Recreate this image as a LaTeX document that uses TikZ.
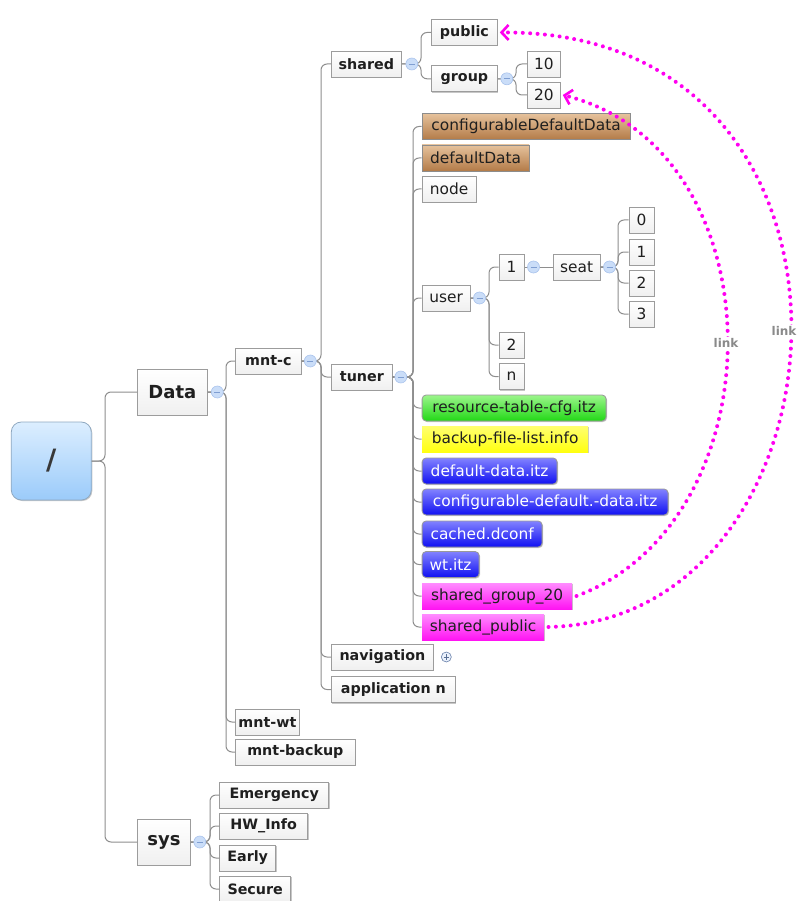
\documentclass[tikz,border=0pt]{standalone}
\usepackage{fontspec}
\setmainfont{DejaVu Sans}
\usetikzlibrary{arrows.meta,shadows}

\definecolor{edgegray}{HTML}{8E8E8E}
\definecolor{boxline}{HTML}{9C9C9C}
\definecolor{ink}{HTML}{1F1F1F}
\definecolor{linkmag}{HTML}{FF00F0}
\definecolor{linktext}{HTML}{8A8A8A}
\definecolor{foldfill}{HTML}{CADDF8}
\definecolor{folddraw}{HTML}{A9C3EC}
\definecolor{foldsign}{HTML}{7F9ED2}
\definecolor{rootTop}{HTML}{DCEEFF}
\definecolor{rootBot}{HTML}{9BCBFA}
\definecolor{rootLine}{HTML}{8FA8C0}
\definecolor{brownTop}{HTML}{E6C29C}
\definecolor{brownBot}{HTML}{B37B48}
\definecolor{greenTop}{HTML}{9CF58C}
\definecolor{greenBot}{HTML}{22D816}
\definecolor{yellowTop}{HTML}{FFFF70}
\definecolor{yellowBot}{HTML}{FFFF10}
\definecolor{blueTop}{HTML}{8282FF}
\definecolor{blueBot}{HTML}{1010F2}
\definecolor{magTop}{HTML}{FF8CFF}
\definecolor{magBot}{HTML}{FF14F2}

% parent -> trunk column -> child, with rounded bends
\newcommand\topicedge[3]{\draw[conn] (#1.east) -| (#2 |- #3.west) -- (#3.west);}

\tikzset{
  conn/.style={draw=edgegray, line width=1pt, rounded corners=6pt},
  topic/.style={draw=boxline, line width=0.8pt, top color=white, bottom color=black!6,
    text=ink, minimum height=26pt, inner xsep=3pt, inner ysep=0pt, anchor=west,
    font=\fontsize{15.4}{18}\selectfont,
    drop shadow={shadow xshift=1pt, shadow yshift=-1pt, opacity=0.22, fill=black}},
  heavy/.style={font=\fontsize{14.3}{18}\selectfont\bfseries},
  big/.style={minimum height=46pt, font=\fontsize{18}{22}\selectfont\bfseries},
  brownbox/.style={top color=brownTop, bottom color=brownBot, draw=black!45},
  greenbox/.style={top color=greenTop, bottom color=greenBot, draw=black!40, rounded corners=4pt},
  yellowbox/.style={top color=yellowTop, bottom color=yellowBot, draw=none},
  bluebox/.style={top color=blueTop, bottom color=blueBot, draw=black!40, rounded corners=4pt, text=white},
  magbox/.style={top color=magTop, bottom color=magBot, draw=none},
  foldbtn/.style={circle, draw=folddraw, fill=foldfill, line width=0.6pt, minimum size=12pt, inner sep=0pt,
    path picture={\draw[foldsign, line width=0.8pt]
      ([xshift=-3pt]path picture bounding box.center) -- ([xshift=3pt]path picture bounding box.center);}},
  expandbtn/.style={circle, draw=foldsign!80!black, fill=foldfill!40, line width=0.6pt, minimum size=10pt, inner sep=0pt,
    path picture={\draw[foldsign!70!black, line width=0.8pt]
      ([xshift=-2.6pt]path picture bounding box.center) -- ([xshift=2.6pt]path picture bounding box.center)
      ([yshift=-2.6pt]path picture bounding box.center) -- ([yshift=2.6pt]path picture bounding box.center);}},
  linkpath/.style={draw=linkmag, line width=4pt, line cap=round, dash pattern=on 0pt off 7.4pt,
    -{Straight Barb[length=7pt,width=15pt,line width=2.6pt]}},
  linklabel/.style={fill=white, text=linktext, inner sep=1.5pt, font=\fontsize{12}{14}\selectfont\bfseries}
}

\begin{document}
\begin{tikzpicture}[x=1pt,y=-1pt]
\useasboundingbox (0,0) rectangle (799,901);

% ---- topics ----
\node[topic, anchor=center, minimum width=80pt, minimum height=78pt, rounded corners=10pt,
      top color=rootTop, bottom color=rootBot, draw=rootLine,
      font=\fontsize{28}{30}\selectfont\bfseries, text=black!78] (root) at (51.3,461) {/};

\node[topic, big, minimum width=70pt] (data) at (137,392) {Data};
\node[topic, big, minimum width=53pt] (sys)  at (137,842) {sys};

\node[topic, heavy, minimum width=66pt]  (mntc)  at (235,361) {mnt-c};
\node[topic, heavy, minimum width=64pt]  (mntwt) at (235,722) {mnt-wt};
\node[topic, heavy, minimum width=120pt] (mntbk) at (235,752) {mnt-backup};

\node[topic, heavy, minimum width=70pt]  (shared) at (331,64)    {shared};
\node[topic, heavy, minimum width=61pt]  (tuner)  at (331,377)   {tuner};
\node[topic, heavy, minimum width=102pt] (navig)  at (331,657)   {navigation};
\node[topic, heavy, minimum width=124pt] (appn)   at (331,689.5) {application n};

\node[topic, heavy, minimum width=66pt] (public) at (431,32.5) {public};
\node[topic, heavy, minimum width=66pt] (group)  at (431,78.8) {group};
\node[topic, minimum width=33pt] (n10) at (527,64) {10};
\node[topic, minimum width=33pt] (n20) at (527,95) {20};

\node[topic, brownbox, minimum width=208pt] (cdd)   at (421.7,126.5) {configurableDefaultData};
\node[topic, brownbox, minimum width=107pt] (dd)    at (421.7,158)   {defaultData};
\node[topic, minimum width=54pt]            (nodeN) at (421.7,189)   {node};
\node[topic, minimum width=48pt]            (user)  at (421.7,298)   {user};

\node[topic, minimum width=25pt] (u1)   at (498.7,267)   {1};
\node[topic, minimum width=25pt] (u2)   at (498.7,345)   {2};
\node[topic, minimum width=25pt] (un)   at (498.7,376.5) {n};
\node[topic, minimum width=47pt] (seat) at (552.7,267)   {seat};
\node[topic, minimum width=25pt] (s0) at (628.7,220) {0};
\node[topic, minimum width=25pt] (s1) at (628.7,252) {1};
\node[topic, minimum width=25pt] (s2) at (628.7,283) {2};
\node[topic, minimum width=25pt] (s3) at (628.7,314) {3};

\node[topic, greenbox,  minimum width=184pt] (rtc)  at (421.7,408)   {resource-table-cfg.itz};
\node[topic, yellowbox, minimum width=166pt] (bfl)  at (421.7,439)   {backup-file-list.info};
\node[topic, bluebox,   minimum width=135pt] (ddi)  at (421.7,471)   {default-data.itz};
\node[topic, bluebox,   minimum width=246pt] (cddi) at (421.7,502)   {configurable-default.-data.itz};
\node[topic, bluebox,   minimum width=120pt] (cdc)  at (421.7,534)   {cached.dconf};
\node[topic, bluebox,   minimum width=57pt]  (wti)  at (421.7,564.5) {wt.itz};
\node[topic, magbox,    minimum width=150pt] (sg20) at (421.7,596)   {shared\_group\_20};
\node[topic, magbox,    minimum width=122pt] (sp)   at (421.7,627)   {shared\_public};

\node[topic, heavy, minimum width=109pt] (emerg)  at (219.3,795) {Emergency};
\node[topic, heavy, minimum width=88pt]  (hwinfo) at (219.3,826) {HW\_Info};
\node[topic, heavy, minimum width=56pt]  (early)  at (219.3,858) {Early};
\node[topic, heavy, minimum width=71pt]  (secure) at (219.3,889) {Secure};

% ---- trunk columns ----
\coordinate (tRoot)   at (105,0);
\coordinate (tData)   at (226,0);
\coordinate (tSys)    at (210,0);
\coordinate (tMntc)   at (321,0);
\coordinate (tShared) at (421,0);
\coordinate (tGroup)  at (516,0);
\coordinate (tTuner)  at (413,0);
\coordinate (tUser)   at (489,0);
\coordinate (tSeat)   at (618,0);

% ---- connectors ----
\topicedge{root}{tRoot}{data}
\topicedge{root}{tRoot}{sys}
\topicedge{data}{tData}{mntc}
\topicedge{data}{tData}{mntwt}
\topicedge{data}{tData}{mntbk}
\topicedge{mntc}{tMntc}{shared}
\topicedge{mntc}{tMntc}{tuner}
\topicedge{mntc}{tMntc}{navig}
\topicedge{mntc}{tMntc}{appn}
\topicedge{shared}{tShared}{public}
\topicedge{shared}{tShared}{group}
\topicedge{group}{tGroup}{n10}
\topicedge{group}{tGroup}{n20}
\foreach \c in {cdd,dd,nodeN,user,rtc,bfl,ddi,cddi,cdc,wti,sg20,sp}{\topicedge{tuner}{tTuner}{\c}}
\topicedge{user}{tUser}{u1}
\topicedge{user}{tUser}{u2}
\topicedge{user}{tUser}{un}
\draw[conn] (u1.east) -- (seat.west);
\foreach \c in {s0,s1,s2,s3}{\topicedge{seat}{tSeat}{\c}}
\foreach \c in {emerg,hwinfo,early,secure}{\topicedge{sys}{tSys}{\c}}

% ---- fold buttons ----
\node[foldbtn] (fData)   at ([xshift=9.5pt]data.east)   {};
\node[foldbtn] (fSys)    at ([xshift=9pt]sys.east)      {};
\node[foldbtn] (fMntc)   at ([xshift=8.5pt]mntc.east)   {};
\node[foldbtn] (fShared) at ([xshift=10pt]shared.east)  {};
\node[foldbtn] (fGroup)  at ([xshift=9pt]group.east)    {};
\node[foldbtn] (fTuner)  at ([xshift=8pt]tuner.east)    {};
\node[foldbtn] (fUser)   at ([xshift=9pt]user.east)     {};
\node[foldbtn] (fU1)     at ([xshift=9pt]u1.east)       {};
\node[foldbtn] (fSeat)   at ([xshift=9pt]seat.east)     {};
\node[expandbtn] (xNav)  at ([xshift=12.5pt]navig.east) {};

% ---- link relations ----
\draw[linkpath] ([xshift=4pt]sg20.east) .. controls (780,520) and (780,150) .. ([xshift=2pt]n20.east);
\draw[linkpath] ([xshift=4pt]sp.east) .. controls (860,620) and (900,30) .. ([xshift=2pt]public.east);
\node[linklabel] (lab1) at (726,343) {link};
\node[linklabel] (lab2) at (784,331) {link};
\end{tikzpicture}
\end{document}
